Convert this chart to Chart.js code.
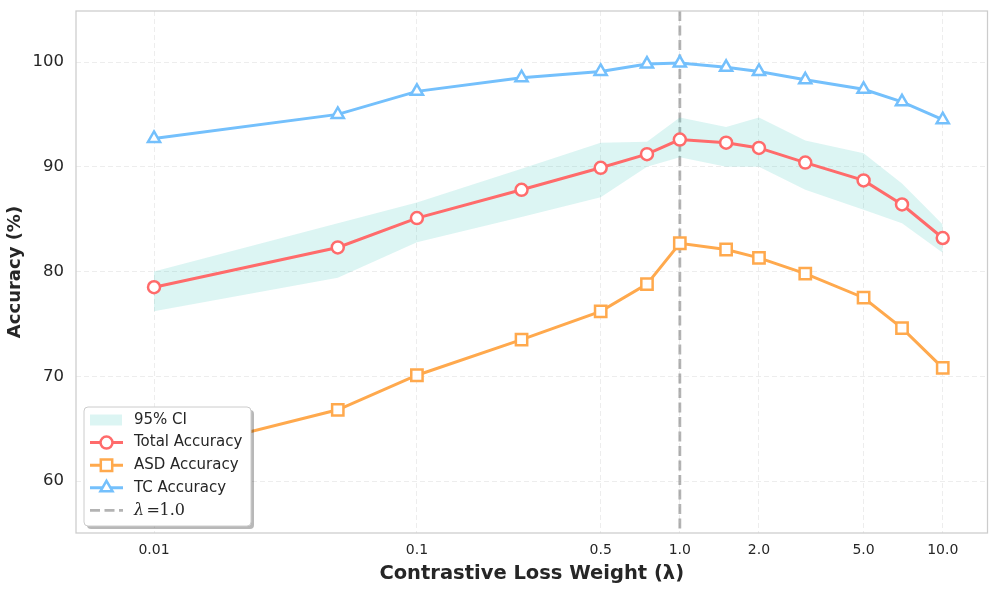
<!DOCTYPE html>
<html>
<head>
<meta charset="utf-8">
<script src="https://cdn.jsdelivr.net/npm/chart.js@4.4.1/dist/chart.umd.min.js"></script>
<style>
  html, body { margin: 0; padding: 0; background: #ffffff; }
  #wrap { width: 998px; height: 592px; }
</style>
</head>
<body>
<div id="wrap"><canvas id="c" width="998" height="592"></canvas></div>
<script>
// ---- data ----
const lambdas   = [0.01, 0.05, 0.1, 0.25, 0.5, 0.75, 1.0, 1.5, 2.0, 3.0, 5.0, 7.0, 10.0];
const totalAcc  = [78.5, 82.3, 85.1, 87.8, 89.9, 91.2, 92.6, 92.3, 91.8, 90.4, 88.7, 86.4, 83.2];
const asdAcc    = [62.4, 66.8, 70.1, 73.5, 76.2, 78.8, 82.7, 82.1, 81.3, 79.8, 77.5, 74.6, 70.8];
const tcAcc     = [92.7, 95.0, 97.2, 98.5, 99.1, 99.8, 99.9, 99.5, 99.1, 98.3, 97.4, 96.2, 94.5];
const ciUpper   = [80.0, 84.6, 86.6, 89.8, 92.3, 92.4, 94.7, 93.8, 94.7, 92.5, 91.3, 88.4, 84.5];
const ciLower   = [76.2, 79.4, 82.8, 85.2, 87.1, 90.0, 90.9, 90.0, 90.0, 87.8, 85.9, 84.6, 81.8];
const xTickValues = [0.01, 0.1, 0.5, 1.0, 2.0, 5.0, 10.0];
const xTickLabels = ['0.01', '0.1', '0.5', '1.0', '2.0', '5.0', '10.0'];
const yTickValues = [60, 70, 80, 90, 100];
const seriesLabels = ['95% CI', 'Total Accuracy', 'ASD Accuracy', 'TC Accuracy'];
const refLambda = 1.0;
const refLabel = ['λ', '=', '1.0'];
const xTitle = 'Contrastive Loss Weight (λ)';
const yTitle = 'Accuracy (%)';

// ---- styles ----
const COL_TOTAL = '#ff6b6b';
const COL_ASD = '#ffa94d';
const COL_TC = '#74c0fc';
const COL_CI = 'rgba(78, 205, 196, 0.2)';
const COL_REF = 'rgba(128,128,128,0.6)';
const TXT = '#262626';

const pts = (ys) => lambdas.map((x, i) => ({ x: x, y: ys[i] }));

Chart.defaults.font.family = '"DejaVu Sans", sans-serif';
Chart.defaults.color = TXT;

function roundRect(ctx, x, y, w, h, r) {
  ctx.beginPath();
  ctx.moveTo(x + r, y);
  ctx.lineTo(x + w - r, y);
  ctx.arcTo(x + w, y, x + w, y + r, r);
  ctx.lineTo(x + w, y + h - r);
  ctx.arcTo(x + w, y + h, x + w - r, y + h, r);
  ctx.lineTo(x + r, y + h);
  ctx.arcTo(x, y + h, x, y + h - r, r);
  ctx.lineTo(x, y + r);
  ctx.arcTo(x, y, x + r, y, r);
  ctx.closePath();
}

function drawMarker(ctx, style, x, y, color) {
  ctx.save();
  ctx.lineWidth = 2.5;
  ctx.strokeStyle = color;
  ctx.fillStyle = '#ffffff';
  ctx.beginPath();
  if (style === 'circle') {
    ctx.arc(x, y, 6, 0, Math.PI * 2);
  } else if (style === 'rect') {
    const s = 5.7;
    ctx.rect(x - s, y - s, 2 * s, 2 * s);
  } else if (style === 'triangle') {
    const r = 7;
    for (let k = 0; k < 3; k++) {
      const a = k * 2 * Math.PI / 3;
      const px = x + Math.sin(a) * r, py = y - Math.cos(a) * r;
      if (k === 0) ctx.moveTo(px, py); else ctx.lineTo(px, py);
    }
    ctx.closePath();
  }
  ctx.fill();
  ctx.stroke();
  ctx.restore();
}

const decorPlugin = {
  id: 'decor',
  beforeDatasetsDraw(chart) {
    const { ctx, chartArea } = chart;
    const xs = chart.scales.x;
    const px = xs.getPixelForValue(refLambda);
    ctx.save();
    ctx.strokeStyle = COL_REF;
    ctx.lineWidth = 2.8;
    ctx.setLineDash([10, 4.5]);
    ctx.beginPath();
    ctx.moveTo(px, chartArea.top);
    ctx.lineTo(px, chartArea.bottom);
    ctx.stroke();
    ctx.restore();
  },
  afterDraw(chart) {
    const { ctx, chartArea } = chart;
    // frame
    ctx.save();
    ctx.strokeStyle = '#cccccc';
    ctx.lineWidth = 1.25;
    ctx.strokeRect(chartArea.left, chartArea.top, chartArea.right - chartArea.left, chartArea.bottom - chartArea.top);
    ctx.restore();

    // legend (inside plot, lower left)
    const x0 = chartArea.left + 8, y0 = chartArea.bottom - 126, w = 167, h = 119;
    ctx.save();
    ctx.fillStyle = 'rgba(0,0,0,0.28)';
    roundRect(ctx, x0 + 3, y0 + 3, w, h, 4);
    ctx.fill();
    ctx.fillStyle = '#ffffff';
    roundRect(ctx, x0, y0, w, h, 4);
    ctx.fill();
    ctx.strokeStyle = '#cccccc';
    ctx.lineWidth = 1;
    ctx.stroke();

    const hx0 = x0 + 6, hx1 = x0 + 39, hxm = (hx0 + hx1) / 2, tx = x0 + 50;
    const rowY = (i) => y0 + 13 + i * 22.6;
    const LFONT = '15px "DejaVu Sans"';
    ctx.font = LFONT;
    ctx.textBaseline = 'middle';
    ctx.textAlign = 'left';

    // CI patch
    ctx.fillStyle = COL_CI;
    ctx.fillRect(hx0, rowY(0) - 5.5, hx1 - hx0 - 1, 11);
    ctx.fillStyle = TXT;
    ctx.fillText(seriesLabels[0], tx, rowY(0));

    const lines = [[COL_TOTAL, 'circle'], [COL_ASD, 'rect'], [COL_TC, 'triangle']];
    lines.forEach((ln, k) => {
      const yy = rowY(k + 1);
      ctx.strokeStyle = ln[0];
      ctx.lineWidth = 3;
      ctx.beginPath();
      ctx.moveTo(hx0, yy);
      ctx.lineTo(hx1, yy);
      ctx.stroke();
      drawMarker(ctx, ln[1], hxm, yy, ln[0]);
      ctx.fillStyle = TXT;
      ctx.font = LFONT;
      ctx.fillText(seriesLabels[k + 1], tx, yy);
    });

    // reference line entry
    const yr = rowY(4);
    ctx.strokeStyle = COL_REF;
    ctx.lineWidth = 2.8;
    ctx.setLineDash([10, 4.5]);
    ctx.beginPath();
    ctx.moveTo(hx0, yr);
    ctx.lineTo(hx1, yr);
    ctx.stroke();
    ctx.setLineDash([]);
    ctx.fillStyle = TXT;
    ctx.font = 'italic 16px "DejaVu Serif"';
    ctx.fillText(refLabel[0], tx, yr);
    ctx.font = '16px "DejaVu Serif"';
    ctx.fillText(refLabel[1], tx + 12.5, yr);
    ctx.fillText(refLabel[2], tx + 25.5, yr);
    ctx.restore();
  }
};

new Chart(document.getElementById('c'), {
  type: 'line',
  data: {
    datasets: [
      { label: seriesLabels[0] + ' upper', order: 10, data: pts(ciUpper), borderWidth: 0, pointRadius: 0, fill: false, backgroundColor: COL_CI, borderColor: 'rgba(0,0,0,0)', tension: 0 },
      { label: seriesLabels[0], order: 9, data: pts(ciLower), borderWidth: 0, pointRadius: 0, fill: '-1', backgroundColor: COL_CI, borderColor: 'rgba(0,0,0,0)', tension: 0 },
      { label: seriesLabels[1], order: 3, data: pts(totalAcc), borderColor: COL_TOTAL, borderWidth: 3, pointStyle: 'circle', pointRadius: 6, pointBorderWidth: 2.5, pointBackgroundColor: '#ffffff', pointBorderColor: COL_TOTAL, fill: false, tension: 0 },
      { label: seriesLabels[2], order: 2, data: pts(asdAcc), borderColor: COL_ASD, borderWidth: 3, pointStyle: 'rect', pointRadius: 8, pointBorderWidth: 2.5, pointBackgroundColor: '#ffffff', pointBorderColor: COL_ASD, fill: false, tension: 0 },
      { label: seriesLabels[3], order: 1, data: pts(tcAcc), borderColor: COL_TC, borderWidth: 3, pointStyle: 'triangle', pointRadius: 7, pointBorderWidth: 2.5, pointBackgroundColor: '#ffffff', pointBorderColor: COL_TC, fill: false, tension: 0 }
    ]
  },
  options: {
    responsive: false,
    animation: false,
    devicePixelRatio: 1,
    layout: { padding: { left: 0, top: 11, right: 10, bottom: 0 } },
    plugins: { legend: { display: false }, tooltip: { enabled: false } },
    scales: {
      x: {
        type: 'logarithmic',
        min: 0.00505,
        max: 14.8,
        afterBuildTicks: (s) => { s.ticks = xTickValues.map(v => ({ value: v })); },
        afterFit: (s) => { s.height = 59; s.paddingLeft = 0; s.paddingRight = 0; },
        ticks: {
          autoSkip: false, maxRotation: 0, minRotation: 0, padding: 9,
          font: { size: 14 }, color: TXT,
          callback: (v, i) => xTickLabels[i]
        },
        grid: { color: '#ebebeb', lineWidth: 0.9, drawTicks: false },
        border: { display: false, dash: [5, 3] },
        title: { display: true, text: xTitle, font: { size: 19.5, weight: 'bold', lineHeight: 1.2 }, color: TXT, padding: { top: 0, bottom: 6 } }
      },
      y: {
        type: 'linear',
        min: 55.04,
        max: 104.87,
        afterBuildTicks: (s) => { s.ticks = yTickValues.map(v => ({ value: v })); },
        afterFit: (s) => { s.width = 76; s.paddingTop = 0; s.paddingBottom = 0; },
        ticks: { padding: 12, font: { size: 16.5 }, color: TXT },
        grid: { color: '#ebebeb', lineWidth: 0.9, drawTicks: false },
        border: { display: false, dash: [5, 3] },
        title: { display: true, text: yTitle, font: { size: 18, weight: 'bold', lineHeight: 1.2 }, color: TXT, padding: { top: 5, bottom: 0 } }
      }
    }
  },
  plugins: [decorPlugin]
});
</script>
</body>
</html>
